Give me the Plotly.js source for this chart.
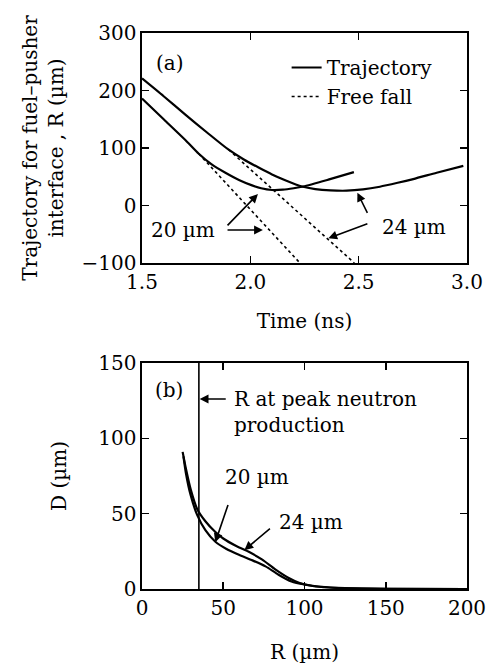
<!DOCTYPE html>
<html>
<head>
<meta charset="utf-8">
<script src="https://cdn.plot.ly/plotly-3.0.1.min.js"></script>
<style>html,body{margin:0;padding:0;background:#fff;}#chart{width:488px;height:664px;}</style>
</head>
<body>
<div id="chart"></div>
<script>
// ---- Panel (a): trajectory of fuel-pusher interface ----
const time20 = [1.5, 1.6, 1.7, 1.762, 1.82, 1.885, 1.95, 2.008, 2.05, 2.1, 2.15, 2.2, 2.244, 2.36, 2.478];
const traj20 = [186, 150, 114, 90, 72, 57, 44, 35, 30, 27, 27.5, 30, 33, 45, 58];
const time24 = [1.5, 1.6, 1.7, 1.8, 1.9, 1.97, 2.038, 2.1, 2.161, 2.238, 2.3, 2.37, 2.445, 2.52, 2.598, 2.68, 2.752, 2.86, 2.983];
const traj24 = [221, 190, 158, 127, 97, 80, 66, 54, 44, 33, 28.5, 26.3, 25.8, 28, 32.7, 39.5, 46, 57, 69];
const ffTime20 = [1.762, 2.229];
const ff20 = [90, -100];
const ffTime24 = [1.9, 2.48];
const ff24 = [97, -100];

// ---- Panel (b): D versus R ----
const rD24 = [25, 27, 30, 34, 39, 45, 50, 58, 66, 74, 82, 90, 97, 105, 115, 130, 150, 200];
const d24 = [91, 80, 66, 53, 45, 38, 33.5, 28.5, 24.5, 19.5, 13, 7.5, 4, 2, 1, 0.4, 0.1, 0];
const rD20 = [25.5, 27, 30, 34, 39, 45, 52, 60, 68, 76, 84, 92, 100, 110, 125, 150, 200];
const d20 = [88, 77, 62, 49, 39, 31.5, 26.5, 22.5, 19, 15, 9.5, 5, 3, 1.5, 0.6, 0.1, 0];
const peakR = [35, 35];
const peakD = [0, 150];

const xTicksA = [1.5, 2.0, 2.5, 3.0];
const yTicksA = [-100, 0, 100, 200, 300];
const xTicksB = [0, 50, 100, 150, 200];
const yTicksB = [0, 50, 100, 150];

const FONT = 'DejaVu Serif, serif';
const solid = {color: '#000', width: 2.2};
const dotted = {color: '#000', width: 1.6, dash: 'dot'};
const spl = {shape: 'spline', smoothing: 0.7};

const traces = [
  {x: time20, y: traj20, mode: 'lines', line: Object.assign({}, spl, solid), name: 'Trajectory', showlegend: true, xaxis: 'x', yaxis: 'y'},
  {x: time24, y: traj24, mode: 'lines', line: Object.assign({}, spl, solid), name: 'Trajectory 24', showlegend: false, xaxis: 'x', yaxis: 'y'},
  {x: ffTime20, y: ff20, mode: 'lines', line: dotted, name: 'Free fall', showlegend: true, xaxis: 'x', yaxis: 'y'},
  {x: ffTime24, y: ff24, mode: 'lines', line: dotted, name: 'Free fall 24', showlegend: false, xaxis: 'x', yaxis: 'y'},
  {x: rD24, y: d24, mode: 'lines', line: Object.assign({}, spl, solid), showlegend: false, xaxis: 'x2', yaxis: 'y2'},
  {x: rD20, y: d20, mode: 'lines', line: Object.assign({}, spl, solid), showlegend: false, xaxis: 'x2', yaxis: 'y2'},
  {x: peakR, y: peakD, mode: 'lines', line: {color: '#000', width: 1.6}, showlegend: false, xaxis: 'x2', yaxis: 'y2'}
];

const TF = {family: FONT, size: 20, color: '#000'};
const axisBase = {
  showline: true, linecolor: '#000', linewidth: 1.6, mirror: 'ticks',
  ticks: 'inside', ticklen: 7, tickwidth: 1.6, tickcolor: '#000',
  showgrid: false, zeroline: false, tickfont: TF
};

function arrow(xr, yr, x, y, ax, ay) {
  return {xref: xr, yref: yr, axref: xr, ayref: yr, x: x, y: y, ax: ax, ay: ay,
    text: ' ', showarrow: true, arrowhead: 2, arrowsize: 1.1, arrowwidth: 1.6, arrowcolor: '#000', standoff: 0, startstandoff: 0};
}
function label(xr, yr, x, y, t, xa) {
  return {xref: xr, yref: yr, x: x, y: y, text: t, showarrow: false, xanchor: xa || 'center', yanchor: 'middle', align: 'left', font: TF};
}

const layout = {
  width: 488, height: 664,
  margin: {l: 142, r: 21, t: 33, b: 75},
  paper_bgcolor: '#fff', plot_bgcolor: '#fff',
  font: TF,
  showlegend: true,
  legend: {x: 0.445, y: 0.973, xanchor: 'left', yanchor: 'top', bgcolor: 'rgba(0,0,0,0)', font: TF, tracegroupgap: 0},
  xaxis: Object.assign({}, axisBase, {domain: [0, 1], range: [1.5, 3.0], tickvals: xTicksA, ticktext: xTicksA.map(v => v.toFixed(1)), anchor: 'y',
    title: {text: 'Time (ns)', font: TF, standoff: 21}}),
  yaxis: Object.assign({}, axisBase, {domain: [0.5863, 1], range: [-100, 300], tickvals: yTicksA, anchor: 'x',
    title: {text: 'Trajectory for fuel–pusher<br>interface , R (µm)', font: TF, standoff: 12}}),
  xaxis2: Object.assign({}, axisBase, {domain: [0, 1], range: [0, 200], tickvals: xTicksB, anchor: 'y2',
    title: {text: 'R (µm)', font: TF, standoff: 27}}),
  yaxis2: Object.assign({}, axisBase, {domain: [0, 0.4065], range: [0, 150], tickvals: yTicksB, anchor: 'x2',
    title: {text: 'D (µm)', font: TF, standoff: 26}}),
  annotations: [
    label('x', 'y', 1.629, 248, '(a)'),
    label('x', 'y', 1.687, -42.6, '20 µm'),
    label('x', 'y', 2.755, -37.4, '24 µm'),
    arrow('x', 'y', 2.035, 20, 1.874, -42.6),
    arrow('x', 'y', 2.058, -42.6, 1.874, -42.6),
    arrow('x', 'y', 2.494, 22.3, 2.561, -28.7),
    arrow('x', 'y', 2.36, -57, 2.561, -28.7),
    label('x2', 'y2', 16.7, 132, '(b)'),
    label('x2', 'y2', 55.6, 117.5, 'R at peak neutron<br>production', 'left'),
    arrow('x2', 'y2', 35.5, 126.1, 54.3, 126.1),
    label('x2', 'y2', 70.7, 74.5, '20 µm'),
    arrow('x2', 'y2', 45.1, 31, 55.7, 64.6),
    label('x2', 'y2', 103.7, 44.7, '24 µm'),
    arrow('x2', 'y2', 63, 25.8, 81.5, 42.5)
  ]
};

Plotly.newPlot('chart', traces, layout, {staticPlot: true, displayModeBar: false});
</script>
</body>
</html>
